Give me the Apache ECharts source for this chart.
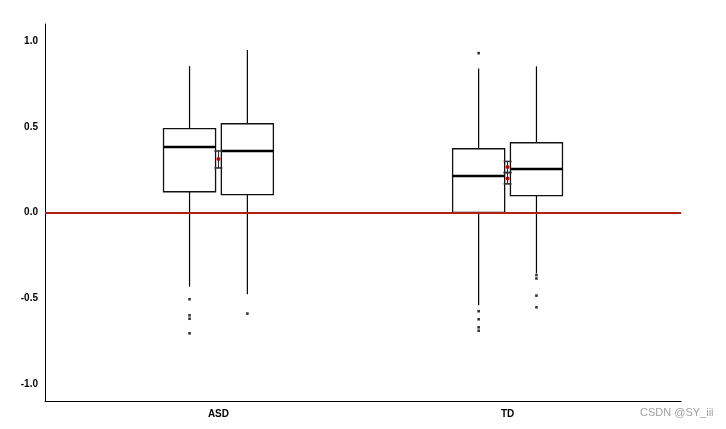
<!DOCTYPE html>
<html>
<head>
<meta charset="utf-8">
<script src="https://cdn.jsdelivr.net/npm/echarts@6/dist/echarts.min.js"></script>
<style>html,body{margin:0;padding:0;background:#fff}#c{width:726px;height:429px}</style>
</head>
<body>
<div id="c"></div>
<script>
// Categories and their positions on the x scale
const categories = ['ASD', 'TD'];
const groupPos = [1, 2];
const yTicks = [-1, -0.5, 0, 0.5, 1];

// Box statistics: [first condition, second condition] per group
const whiskerLow  = [[-0.433, -0.477], [-0.541, -0.355]];
const q1          = [[0.121, 0.104], [0.000, 0.098]];
const median      = [[0.382, 0.359], [0.213, 0.254]];
const q3          = [[0.489, 0.518], [0.372, 0.407]];
const whiskerHigh = [[0.854, 0.948], [0.841, 0.853]];

// Outliers per group / condition
const outliers = [
  [[-0.506, -0.600, -0.620, -0.705], [-0.590]],
  [[0.930, -0.576, -0.623, -0.670, -0.690], [-0.365, -0.385, -0.485, -0.553]]
];

// Mean with interval (low, mean, high) per group
const meanBars = [
  [[0.260, 0.312, 0.359]],
  [[0.233, 0.266, 0.298], [0.167, 0.198, 0.233]]
];

const offset = 0.1;   // dodge
const boxW = 0.18;    // box width in x units

const boxData = [];
const outData = [];
const errData = [];
groupPos.forEach((g, gi) => {
  [0, 1].forEach(ci => {
    const x = g + (ci === 0 ? -offset : offset);
    boxData.push([x, whiskerLow[gi][ci], q1[gi][ci], median[gi][ci], q3[gi][ci], whiskerHigh[gi][ci]]);
    outliers[gi][ci].forEach(v => outData.push([x, v]));
  });
  meanBars[gi].forEach(m => errData.push([g, m[0], m[1], m[2]]));
});

const chart = echarts.init(document.getElementById('c'));
const labelFont = { color: '#000', fontWeight: 'bold', fontSize: 10, fontFamily: 'Liberation Sans' };

chart.setOption({
  animation: false,
  grid: { left: 45, right: 45, top: 24, bottom: 28 },
  xAxis: {
    type: 'value', min: 0.4, max: 2.6,
    axisLine: { show: true, onZero: false, lineStyle: { color: '#000', width: 1 } },
    axisTick: { show: false },
    splitLine: { show: false },
    axisLabel: Object.assign({
      customValues: groupPos, margin: 8,
      formatter: v => categories[groupPos.indexOf(v)] || ''
    }, labelFont)
  },
  yAxis: {
    type: 'value', min: -1.1, max: 1.1,
    axisLine: { show: true, onZero: false, lineStyle: { color: '#000', width: 1 } },
    axisTick: { show: false },
    splitLine: { show: false },
    axisLabel: Object.assign({
      customValues: yTicks, margin: 7,
      formatter: v => v.toFixed(1)
    }, labelFont)
  },
  graphic: [{
    type: 'text', left: 640, top: 407, z: 100,
    style: { text: 'CSDN @SY_iii', fill: '#a0a0a0', fontSize: 11, fontFamily: 'Liberation Sans' }
  }],
  series: [
    {
      type: 'line', data: [], z: 1,
      markLine: {
        silent: true, symbol: ['none', 'none'],
        label: { show: false },
        lineStyle: { color: '#b21f14', width: 2, type: 'solid' },
        data: [{ yAxis: 0 }]
      }
    },
    {
      type: 'custom', z: 3,
      data: boxData,
      encode: { x: 0, y: [1, 2, 3, 4, 5] },
      renderItem: function (params, api) {
        const x = api.value(0);
        const hw = api.size([boxW, 0])[0] / 2;
        const pLow = api.coord([x, api.value(1)]);
        const pQ1 = api.coord([x, api.value(2)]);
        const pMed = api.coord([x, api.value(3)]);
        const pQ3 = api.coord([x, api.value(4)]);
        const pHigh = api.coord([x, api.value(5)]);
        const cx = pQ1[0];
        return {
          type: 'group',
          children: [
            { type: 'line', shape: { x1: cx, y1: pQ3[1], x2: cx, y2: pHigh[1] }, style: { stroke: '#000', lineWidth: 1.2 } },
            { type: 'line', shape: { x1: cx, y1: pQ1[1], x2: cx, y2: pLow[1] }, style: { stroke: '#000', lineWidth: 1.2 } },
            { type: 'rect', shape: { x: cx - hw, y: pQ3[1], width: hw * 2, height: pQ1[1] - pQ3[1] },
              style: { fill: '#fff', stroke: '#111', lineWidth: 1.3 } },
            { type: 'line', shape: { x1: cx - hw, y1: pMed[1], x2: cx + hw, y2: pMed[1] }, style: { stroke: '#000', lineWidth: 2.4 } }
          ]
        };
      }
    },
    {
      type: 'scatter', z: 4,
      data: outData,
      symbol: 'rect', symbolSize: 2.6,
      itemStyle: { color: '#000' }
    },
    {
      type: 'custom', z: 5,
      data: errData,
      encode: { x: 0, y: [1, 2, 3] },
      renderItem: function (params, api) {
        const x = api.value(0);
        const pLo = api.coord([x, api.value(1)]);
        const pM = api.coord([x, api.value(2)]);
        const pHi = api.coord([x, api.value(3)]);
        const cx = pLo[0];
        const cw = 4;
        return {
          type: 'group',
          children: [
            { type: 'line', shape: { x1: cx, y1: pHi[1], x2: cx, y2: pLo[1] }, style: { stroke: '#222', lineWidth: 1 } },
            { type: 'line', shape: { x1: cx - cw, y1: pHi[1], x2: cx + cw, y2: pHi[1] }, style: { stroke: '#333', lineWidth: 1.6 } },
            { type: 'line', shape: { x1: cx - cw, y1: pLo[1], x2: cx + cw, y2: pLo[1] }, style: { stroke: '#333', lineWidth: 1.6 } },
            { type: 'circle', shape: { cx: cx, cy: pM[1], r: 2 }, style: { fill: '#c00000' } }
          ]
        };
      }
    }
  ]
});
</script>
</body>
</html>
